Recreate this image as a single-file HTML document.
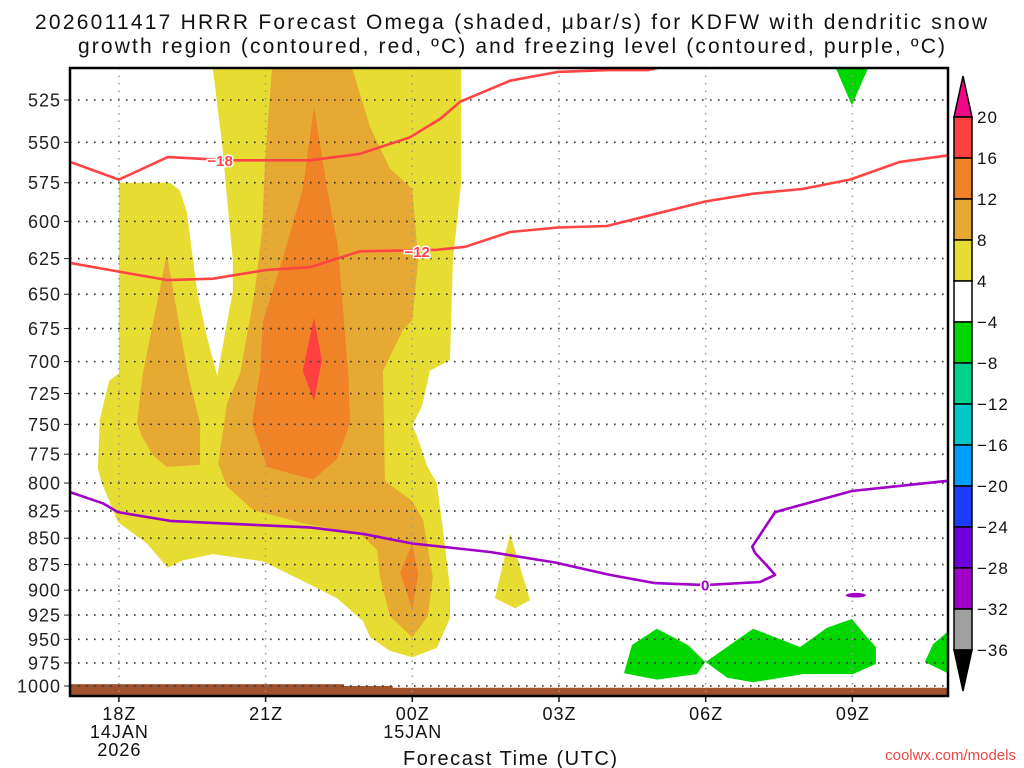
<!DOCTYPE html>
<html><head><meta charset="utf-8"><style>
html,body{margin:0;padding:0;background:#fff;}
svg{display:block;font-family:"Liberation Sans",sans-serif;}
</style></head><body>
<svg id="chart" width="1024" height="768" viewBox="0 0 1024 768" xmlns="http://www.w3.org/2000/svg">
<text x="35" y="29" font-size="21" textLength="952" lengthAdjust="spacing" fill="#111">2026011417 HRRR Forecast Omega (shaded, μbar/s) for KDFW with dendritic snow</text>
<text x="78" y="53" font-size="21" textLength="867" lengthAdjust="spacing" fill="#111">growth region (contoured, red, ºC) and freezing level (contoured, purple, ºC)</text>
<g id="plot"></g>
<text x="403" y="765" font-size="20" textLength="214" lengthAdjust="spacing" fill="#111">Forecast Time (UTC)</text>
<text x="1016" y="760" font-size="15" text-anchor="end" fill="#e84848">coolwx.com/models</text>
<g id="cbar"></g>
</svg>
<script>
const pressureTicks=[525,550,575,600,625,650,675,700,725,750,775,800,825,850,875,900,925,950,975,1000];
const timeTicks=[18,21,24,27,30,33];
const timeLabels=[["18Z","14JAN","2026"],["21Z"],["00Z","15JAN"],["03Z"],["06Z"],["09Z"]];
const yellow4=[[19.92,507],[20.11,551],[20.33,626],[20.33,648],[20.07,699],[20.01,711],[19.8,681],[19.6,648],[19.39,594],[19.25,580],[19.05,575],[18,575],[18,709],[17.8,715],[17.61,746],[17.57,787],[17.65,800],[17.98,835],[18.57,855],[19,878],[19.31,871],[19.92,865],[20.95,872],[21.76,891],[22.46,908],[22.99,931],[23.14,948],[23.54,962],[24,969],[24.5,959],[24.77,928],[24.77,898],[24.63,843],[24.5,800],[24.3,785],[24.1,760],[24,751],[24.2,735],[24.36,707],[24.77,699],[24.83,626],[25,575],[25,507]];
const yellowSmall=[[26,846],[26.41,910],[26.1,918],[25.69,908]];
const orangeA=[[18.98,622],[18.49,709],[18.37,749],[18.47,760],[18.7,776],[18.98,786],[19.66,784],[19.66,749],[19.58,736],[19.41,709]];
const orangeB=[[21.13,507],[20.99,560],[20.93,605],[20.78,648],[20.48,709],[20.21,733],[20.03,783],[20.21,803],[20.74,824],[21.76,836],[22.93,846],[23.28,861],[23.34,887],[23.54,926],[24,948],[24.32,926],[24.42,887],[24.22,833],[24,816],[23.44,798],[23.4,707],[23.81,676],[24,669],[24.12,626],[24,579],[23.54,566],[23.14,541],[22.77,507]];
const dark12=[[21.99,529],[22.26,579],[22.48,617],[22.69,709],[22.73,749],[22.46,779],[21.97,797],[21.03,786],[20.72,749],[20.89,707],[20.95,669],[21.36,624],[21.76,579]];
const dark12b=[[24,855],[24.12,884],[24,919],[23.75,883]];
const red16=[[21.99,667],[22.15,699],[21.99,731],[21.76,707]];
const green1=[[28.33,986],[28.49,956],[29,939],[29.64,956],[29.99,974],[29.82,987],[29,993]];
const green2=[[30,974],[30.97,939],[31.93,958],[32.48,938],[32.99,929],[33.3,948],[33.48,958],[33.48,976],[33.01,987],[31.99,987],[30.97,996],[30.44,991]];
const green3=[[34.48,974],[34.65,955],[34.95,942],[34.95,986]];
const green4=[[32.66,507],[33.32,507],[32.99,528]];
const freezeLine=[[17,808],[17.67,818],[17.98,826],[19.05,834],[19.97,836],[20.95,838],[21.91,840],[22.99,846],[24,855],[25.59,863],[26.92,873],[28.04,885],[28.96,893],[29.99,895],[31.11,892],[31.42,885],[31.27,877],[31.01,864],[30.95,858],[31.42,826],[32.99,807],[34.95,798]];
const freezeBlob=[33.07,905];
const m18Line=[[17,562],[18,573],[19,559],[20.27,561],[21.91,561],[22.93,557],[23.95,547],[24.57,536],[24.98,526],[26,514],[26.98,509],[28,508],[28.82,508],[29.31,505]];
const m12Line=[[17,628],[18,634],[19,640],[19.92,639],[20.99,633],[21.91,631],[22.93,620],[24.5,619],[25.08,617],[26,607],[26.98,604],[27.98,603],[29.99,587],[30.97,582],[31.97,579],[32.95,573],[33.97,562],[34.95,558]];
const m18Label=[20.07,561];
const m12Label=[24.1,620];
const freezeLabel=[29.99,895];
const surfaceHours=[17,22.1,22.6,23.6,35];
const surfacePres=[998,998,1000,1002,1002];
const cbarLevels=["20","16","12","8","4","−4","−8","−12","−16","−20","−24","−28","−32","−36"];
const cbarColors=["#ff4040","#f08228","#e6aa32","#e6dc32","#ffffff","#00d700","#00d28c","#00c8c8","#00a0ff","#1e3cff","#6e00dc","#a000c8","#a0a0a0"];

const L=70,R=948,T=68,B=696;
const x=h=>L+(h-17)*48.9;
const y=p=>100+909.4*Math.log(p/525);
const NS="http://www.w3.org/2000/svg";
const plot=document.getElementById('plot');
function mk(tag,attrs,parent){const e=document.createElementNS(NS,tag);for(const k in attrs)e.setAttribute(k,attrs[k]);(parent||plot).appendChild(e);return e;}
const pts=a=>a.map(d=>x(d[0]).toFixed(1)+","+y(d[1]).toFixed(1)).join(" ");

const defs=mk('defs',{});
const cp=mk('clipPath',{id:'clip'},defs);mk('rect',{x:L,y:T,width:R-L,height:B-T},cp);
const shade=mk('g',{'clip-path':'url(#clip)'});
const fills=[[yellow4,"#e6dc32","omega-4-8"],[yellowSmall,"#e6dc32","omega-4-8-small"],[orangeA,"#e6aa32","omega-8-12-left"],[orangeB,"#e6aa32","omega-8-12-main"],[dark12,"#f08228","omega-12-16-main"],[dark12b,"#f08228","omega-12-16-low"],[red16,"#ff4040","omega-16-20"],[green1,"#00d700","omega-neg-1"],[green2,"#00d700","omega-neg-2"],[green3,"#00d700","omega-neg-3"],[green4,"#00d700","omega-neg-top"]];
fills.forEach(f=>{const e=mk('polygon',{points:pts(f[0]),fill:f[1]},shade);

});
const surf=[];for(let i=0;i<surfaceHours.length;i++)surf.push([surfaceHours[i],surfacePres[i]]);
let tp=surf.map((d,i)=>{const n=surf[i+1];return x(d[0])+","+y(d[1])+(n?" "+x(n[0])+","+y(d[1]):"");}).join(" ");
const terr=mk('polygon',{points:tp+" "+R+","+B+" "+L+","+B,fill:"#a0522d"},shade);


pressureTicks.forEach(p=>{const g=mk('line',{x1:L,x2:R,y1:y(p),y2:y(p),stroke:"#333","stroke-width":1.6,"stroke-dasharray":"1.6 6.4"});


const t=mk('text',{x:61,y:y(p)+6.5,'font-size':18,'letter-spacing':1,'text-anchor':'end',fill:'#222'});t.textContent=p;


mk('line',{x1:64,x2:70,y1:y(p),y2:y(p),stroke:'#222','stroke-width':1});});
timeTicks.forEach((h,i)=>{const g=mk('line',{x1:x(h),x2:x(h),y1:T,y2:B,stroke:"#999","stroke-width":1.5,"stroke-dasharray":"1.5 6"});


mk('line',{x1:x(h),x2:x(h),y1:B,y2:B+6,stroke:'#111','stroke-width':1.5});
timeLabels[i].forEach((s,j)=>{const t=mk('text',{x:x(h)+0.5,y:720+j*18,'font-size':18,'letter-spacing':1,'text-anchor':'middle',fill:'#111'});t.textContent=s;

});});
const lc=mk('g',{'clip-path':'url(#clip)'});
[[m18Line,"#ff4444","contour-minus18"],[m12Line,"#ff4444","contour-minus12"],[freezeLine,"#a000c8","freezing-level"]].forEach(c=>{
const e=mk('polyline',{points:pts(c[0]),fill:'none',stroke:c[1],'stroke-width':2.6,'stroke-linejoin':'round'},lc);

});
const blob=mk('ellipse',{cx:x(freezeBlob[0]),cy:y(freezeBlob[1]),rx:10,ry:2.3,fill:'#a000c8'},lc);


[[m18Label,"−18","#ff4444"],[m12Label,"−12","#ff4444"],[freezeLabel,"0","#a000c8"]].forEach(l=>{
const t=mk('text',{x:x(l[0][0]),y:y(l[0][1])+5.5,'font-size':15,'font-weight':'bold','text-anchor':'middle',fill:l[2],stroke:'#fff','stroke-width':3,'paint-order':'stroke'},lc);t.textContent=l[1];

});
const fr=mk('rect',{x:L,y:T,width:R-L,height:B-T,fill:'none',stroke:'#000','stroke-width':2.5});


const cb=document.getElementById('cbar');const cx0=954,cw=18,cbTop=117,step=41;
const up=mk('polygon',{points:`${cx0},${cbTop} ${cx0+cw},${cbTop} ${cx0+cw/2},${cbTop-41}`,fill:'#f0088a',stroke:'#000','stroke-width':1.5},cb);


cbarColors.forEach((c,i)=>{const r=mk('rect',{x:cx0,y:cbTop+i*step,width:cw,height:step,fill:c,stroke:'#000','stroke-width':1.5},cb);

});
const cbBot=cbTop+cbarColors.length*step;
const dn=mk('polygon',{points:`${cx0},${cbBot} ${cx0+cw},${cbBot} ${cx0+cw/2},${cbBot+41}`,fill:'#000',stroke:'#000','stroke-width':1.5},cb);


cbarLevels.forEach((s,i)=>{const t=mk('text',{x:977,y:cbTop+i*step+6,'font-size':17,'letter-spacing':1,fill:'#111'},cb);t.textContent=s;

});
</script>
</body></html>
